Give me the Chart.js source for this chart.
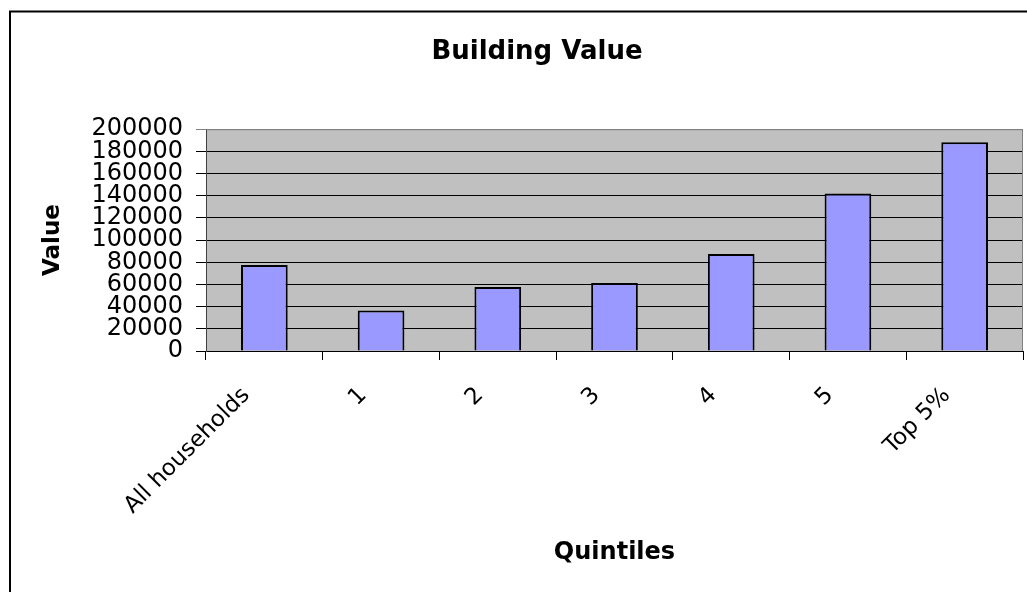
<!DOCTYPE html>
<html>
<head>
<meta charset="utf-8">
<script src="https://cdn.jsdelivr.net/npm/chart.js@4"></script>
<style>
  html, body { margin: 0; padding: 0; background: #fff; }
  canvas { display: block; }
</style>
</head>
<body>
<canvas id="c" width="1027" height="592"></canvas>
<script>
const categories = ['All households', '1', '2', '3', '4', '5', 'Top 5%'];
const values = [77500, 36500, 57700, 61300, 87400, 142000, 188300];
const yMin = 0;
const yMax = 200000;
const yStep = 20000;

const FONT = "'DejaVu Sans', 'Liberation Sans', Arial, sans-serif";

const frame = {
  id: 'frame',
  beforeDraw(chart) {
    const { ctx, chartArea: a } = chart;
    ctx.save();
    ctx.fillStyle = '#fff';
    ctx.fillRect(0, 0, chart.width, chart.height);
    ctx.fillStyle = '#C0C0C0';
    ctx.fillRect(a.left, a.top, a.right - a.left, a.bottom - a.top);
    ctx.restore();
  },
  afterDraw(chart) {
    const { ctx, chartArea: a } = chart;
    ctx.save();
    ctx.strokeStyle = '#808080';
    ctx.lineWidth = 1;
    ctx.beginPath();
    ctx.moveTo(a.left, a.top + 0.5);
    ctx.lineTo(a.right - 0.5, a.top + 0.5);
    ctx.lineTo(a.right - 0.5, a.bottom);
    ctx.stroke();
    ctx.strokeStyle = '#000';
    ctx.lineWidth = 2;
    ctx.beginPath();
    ctx.moveTo(10, chart.height + 2);
    ctx.lineTo(10, 11.5);
    ctx.lineTo(chart.width + 2, 11.5);
    ctx.stroke();
    ctx.restore();
  }
};

new Chart(document.getElementById('c'), {
  type: 'bar',
  data: {
    labels: categories,
    datasets: [{
      data: values,
      backgroundColor: '#9999FF',
      borderColor: '#000',
      borderWidth: 2,
      barPercentage: 0.4,
      categoryPercentage: 1.0
    }]
  },
  options: {
    responsive: false,
    animation: false,
    devicePixelRatio: 1,
    layout: { padding: { left: 51, right: 4, top: 0, bottom: 0 } },
    plugins: {
      legend: { display: false },
      tooltip: { enabled: false },
      title: {
        display: true,
        text: 'Building Value',
        color: '#000',
        font: { family: FONT, size: 26, weight: 'bold' },
        padding: { top: 37, bottom: 61 }
      }
    },
    scales: {
      x: {
        afterFit(scale) { scale.height = 241; },
        grid: { drawOnChartArea: false, drawTicks: true, tickLength: 9, color: '#000' },
        border: { color: '#000', width: 1 },
        ticks: {
          color: '#000',
          font: { family: FONT, size: 23 },
          minRotation: 45,
          maxRotation: 45,
          autoSkip: false,
          padding: 22,
          labelOffset: -18
        },
        title: {
          display: true,
          text: 'Quintiles',
          color: '#000',
          font: { family: FONT, size: 24, weight: 'bold' },
          padding: { top: 0, bottom: 25 }
        }
      },
      y: {
        min: yMin,
        max: yMax,
        afterFit(scale) { scale.width = 155; },
        grid: {
          drawTicks: true,
          tickLength: 10,
          color: (ctx) => (ctx.tick && ctx.tick.value === yMax) ? '#808080' : '#000',
          lineWidth: 1
        },
        border: { color: '#404040', width: 1 },
        ticks: {
          stepSize: yStep,
          autoSkip: false,
          color: '#000',
          font: { family: FONT, size: 24 },
          padding: 13,
          callback: (v) => String(v)
        },
        title: {
          display: true,
          text: 'Value',
          color: '#000',
          font: { family: FONT, size: 23, weight: 'bold' },
          padding: { top: -12, bottom: 0 }
        }
      }
    }
  },
  plugins: [frame]
});
</script>
</body>
</html>
